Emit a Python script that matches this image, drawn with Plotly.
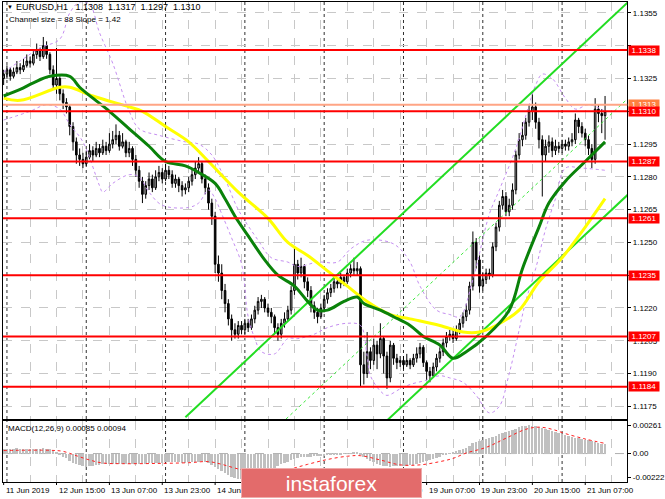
import plotly.graph_objects as go

W, H = 665, 499

# time axis: one bar per hour, bar 0 = 11 Jun 2019 23:00
tick_bars = [0, 16, 32, 48, 64, 80, 96, 112, 128, 144, 160, 176]
tick_text = ["11 Jun 2019", "12 Jun 15:00", "13 Jun 07:00", "13 Jun 23:00", "14 Jun 15:00",
             "17 Jun 07:00", "17 Jun 23:00", "18 Jun 15:00", "19 Jun 07:00", "19 Jun 23:00",
             "20 Jun 15:00", "21 Jun 07:00"]
day_start_bars = [1, 25, 49, 73, 97, 121, 145, 169]

# EURUSD H1, in pips above 1.1000
first_open = 325
close_pips = [327, 329, 326, 328, 330, 329, 331, 333, 332, 336,
              338, 335, 340, 336, 329, 322, 325, 318, 314, 312,
              303, 296, 290, 288, 286, 289, 292, 290, 293, 291,
              294, 292, 295, 297, 299, 294, 296, 291, 293, 288,
              283, 278, 272, 276, 279, 275, 280, 282, 279, 283,
              281, 277, 279, 276, 274, 275, 278, 281, 284, 286,
              279, 275, 268, 262, 240, 236, 228, 222, 215, 210,
              208, 212, 210, 213, 211, 215, 219, 223, 224, 220,
              218, 216, 211, 208, 213, 215, 219, 228, 240, 236,
              239, 232, 228, 221, 218, 216, 220, 224, 227, 229,
              232, 231, 234, 232, 236, 238, 237, 238, 194, 190,
              200, 196, 203, 199, 206, 198, 188, 203, 197, 195,
              196, 194, 196, 194, 197, 199, 202, 195, 191, 189,
              193, 197, 200, 204, 207, 208, 206, 210, 213, 216,
              219, 230, 250, 242, 230, 233, 236, 235, 248, 257,
              267, 271, 264, 267, 274, 290, 297, 299, 305, 310,
              312, 305, 297, 290, 294, 296, 292, 294, 293, 295,
              294, 296, 297, 306, 303, 300, 297, 293, 288, 311,
              309, 308, 310]
high_pips = [329, 331, 330, 330, 333, 332, 334, 336, 335, 338,
             341, 339, 344, 342, 337, 331, 339, 326, 320, 316,
             313, 305, 298, 293, 291, 292, 295, 294, 296, 295,
             297, 296, 300, 301, 304, 301, 300, 297, 296, 294,
             290, 285, 280, 278, 282, 281, 283, 285, 284, 286,
             285, 283, 281, 280, 278, 277, 280, 284, 287, 289,
             287, 281, 277, 270, 264, 244, 240, 231, 224, 217,
             213, 214, 214, 215, 215, 217, 221, 225, 226, 225,
             222, 220, 217, 213, 215, 218, 221, 230, 248, 242,
             243, 240, 234, 230, 223, 220, 222, 226, 229, 231,
             234, 234, 236, 235, 238, 240, 243, 241, 239, 200,
             209, 202, 206, 205, 213, 207, 200, 205, 204, 199,
             198, 198, 199, 197, 199, 202, 204, 203, 196, 193,
             195, 199, 202, 206, 209, 210, 210, 212, 215, 218,
             222, 232, 255, 252, 244, 236, 238, 238, 250, 259,
             269, 274, 273, 270, 277, 292, 300, 305, 307, 313,
             319, 314, 307, 299, 297, 299, 298, 297, 296, 297,
             297, 298, 300, 309, 307, 305, 302, 299, 295, 316,
             313, 311, 317]
low_pips = [322, 325, 324, 325, 327, 327, 328, 330, 330, 331,
            334, 333, 334, 334, 327, 320, 318, 315, 311, 309,
            299, 292, 286, 285, 284, 285, 288, 287, 289, 289,
            290, 290, 291, 293, 295, 292, 293, 289, 289, 285,
            280, 275, 268, 270, 274, 273, 274, 278, 277, 278,
            279, 275, 275, 273, 271, 272, 273, 276, 279, 282,
            277, 272, 265, 258, 236, 232, 224, 218, 212, 205,
            206, 206, 208, 208, 209, 210, 213, 217, 220, 218,
            216, 213, 208, 205, 206, 211, 214, 217, 226, 233,
            234, 229, 225, 218, 215, 213, 215, 218, 222, 225,
            227, 229, 229, 230, 231, 234, 235, 235, 184, 185,
            188, 192, 194, 192, 197, 190, 183, 186, 194, 192,
            193, 192, 193, 192, 193, 195, 197, 193, 187, 186,
            188, 191, 195, 198, 202, 205, 204, 205, 208, 211,
            214, 217, 228, 238, 227, 228, 231, 233, 234, 246,
            255, 265, 262, 262, 265, 272, 288, 294, 297, 303,
            306, 302, 293, 271, 287, 291, 289, 290, 291, 291,
            292, 292, 294, 295, 300, 298, 294, 290, 284, 286,
            305, 300, 297]

# moving averages (read at sample bars)
ma_green_bars = [0, 5, 9, 14, 20, 23, 27, 32, 38, 44, 49, 55, 59, 64, 67, 70, 74, 79, 83, 88,
                 92, 95, 98, 103, 107, 109, 114, 118, 123, 127, 132, 136, 140, 146, 153, 157,
                 162, 165, 170, 176, 182]
ma_green_pips = [317, 320, 323, 326, 326, 321, 316, 310, 302, 294, 287, 285, 282, 277, 270, 262,
                 253, 242, 235, 230, 223, 219, 219, 223, 225, 222, 219, 216, 212, 207, 203, 197,
                 200, 207, 219, 238, 257, 268, 278, 287, 296]
ma_yellow_bars = [0, 5, 17, 20, 27, 38, 42, 49, 56, 62, 71, 80, 86, 92, 98, 104, 110, 117, 123,
                  132, 139, 144, 149, 156, 162, 169, 176, 182]
ma_yellow_pips = [316, 315, 321, 321, 317, 312, 310, 303, 296, 287, 273, 261, 250, 244, 237, 230,
                  223, 217, 215, 212, 209, 209, 212, 219, 232, 243, 257, 270]

# bands (dotted violet)
band_up_bars = [0, 5, 11, 17, 20, 23, 26, 29, 33, 38, 41, 47, 55, 59, 63, 67, 71, 77, 81, 86,
                89, 95, 101, 105, 110, 117, 120, 123, 126, 131, 135, 138, 142, 147, 150, 155,
                159, 161, 163, 166, 170, 173, 177, 182]
band_up_pips = [328, 333, 339, 343, 355, 360, 359, 346, 332, 310, 302, 299, 296, 295, 290, 279,
                265, 251, 243, 241, 239, 241, 241, 247, 251, 250, 247, 241, 230, 219, 217, 216,
                233, 263, 274, 293, 313, 322, 327, 325, 316, 311, 313, 310]
band_lo_bars = [0, 8, 13, 17, 20, 24, 29, 30, 33, 38, 41, 44, 48, 56, 59, 62, 64, 66, 69, 72,
                74, 76, 78, 82, 86, 89, 94, 98, 104, 108, 110, 111, 114, 116, 120, 123, 128,
                132, 135, 139, 143, 147, 150, 153, 158, 161, 164, 167, 170, 175, 182]
band_lo_pips = [306, 310, 313, 311, 304, 296, 276, 273, 277, 281, 280, 273, 267, 266, 268, 274,
                270, 263, 252, 240, 216, 206, 200, 199, 206, 206, 208, 211, 213, 212, 198, 189,
                182, 180, 183, 185, 187, 189, 188, 186, 180, 172, 175, 190, 223, 238, 256, 270,
                284, 284, 283]

# regression channel (upper edge at its two ends, width from the label)
channel_bars = [55, 189]
channel_upper_pips = [170, 360]
channel_size_pips = 88

levels = [1.1338, 1.1310, 1.1287, 1.1261, 1.1235, 1.1207, 1.1184]
ask_level = 1.1313
price_ticks = [1.1175, 1.1190, 1.1205, 1.1220, 1.1235, 1.1250, 1.1265, 1.1280,
               1.1295, 1.1310, 1.1325, 1.1340, 1.1355]
hidden_ticks = [1.1235, 1.1310, 1.1340]

# MACD(12,26,9), in 1e-5
macd_hist = [45, 45, 44, 46, 47, 45, 44, 46, 45, 44, 46, 45, 47, 44, 38,
             25, 10, -10, -30, -45,
             -65, -85, -100, -110, -118, -122,
             -120, -115, -110, -105, -100,
             -97, -95, -94, -95, -93, -94, -95, -96, -95, -94, -93, -92, -93, -92, -91,
             -90, -88, -85, -82, -80, -80, -82, -83, -85, -84, -82, -80, -78,
             -75, -72, -78, -90, -105,
             -125, -145, -165, -185, -200, -215, -225, -232, -236,
             -235, -230, -222, -212, -200, -188, -175, -160,
             -145, -130, -115, -100, -88, -75, -62, -50, -42, -36,
             -32, -30, -28, -26, -24, -22, -20, -18, -15, -12,
             -8, -5, -2, 2, 5, 8, 10,
             -10, -30, -50, -68, -82, -95, -105, -112,
             -118, -122, -120, -118, -115, -113, -112, -110, -108,
             -100, -90, -80, -70, -60, -50, -40,
             -28, -15, -5, 5, 15, 25,
             35, 45, 55, 70, 95,
             110, 120, 128, 135, 142,
             152, 165, 178, 190, 200,
             210, 220, 232, 245, 252,
             258, 261, 260, 255,
             248, 240, 230, 220, 210,
             200, 190, 180, 170, 160,
             152, 145, 140, 135, 130,
             122, 115, 108, 100, 92, 85]
signal_bars = [0, 14, 18, 22, 26, 30, 36, 46, 56, 62, 66, 70, 74, 80, 86, 92, 98, 104, 108,
               114, 120, 126, 132, 136, 140, 146, 152, 158, 162, 166, 170, 176, 182]
signal_vals = [28, 30, 20, -20, -60, -88, -94, -92, -85, -75, -100, -135, -165, -185, -150,
               -100, -55, -25, -20, -60, -105, -105, -75, -45, 5, 57, 142, 225, 245, 225, 185,
               135, 94]


def px(x):
    return x / W


def py(y):
    return 1 - y / H


def price(p):
    return [1.1 + v / 10000 for v in p]


bars = list(range(len(close_pips)))
opens = [first_open] + close_pips[:-1]

fig = go.Figure()

fig.add_trace(go.Candlestick(
    x=bars, open=price(opens), high=price(high_pips), low=price(low_pips), close=price(close_pips),
    increasing=dict(line=dict(color='black', width=1), fillcolor='#a8a8a8'),
    decreasing=dict(line=dict(color='black', width=1), fillcolor='black'),
    whiskerwidth=0, hoverinfo='skip'))

band_style = dict(color='#c48ef0', width=1, dash='dot', shape='spline')
fig.add_trace(go.Scatter(x=band_up_bars, y=price(band_up_pips), mode='lines', line=band_style))
fig.add_trace(go.Scatter(x=band_lo_bars, y=price(band_lo_pips), mode='lines', line=band_style))

ch_up = price(channel_upper_pips)
ch_mid = price([v - channel_size_pips / 2 for v in channel_upper_pips])
ch_lo = price([v - channel_size_pips for v in channel_upper_pips])
fig.add_trace(go.Scatter(x=channel_bars, y=ch_mid, mode='lines',
                         line=dict(color='#3ee83e', width=1, dash='dot')))
fig.add_trace(go.Scatter(x=channel_bars, y=ch_up, mode='lines', line=dict(color='#22dd22', width=2)))
fig.add_trace(go.Scatter(x=channel_bars, y=ch_lo, mode='lines', line=dict(color='#22dd22', width=2)))

fig.add_trace(go.Scatter(x=ma_yellow_bars, y=price(ma_yellow_pips), mode='lines',
                         line=dict(color='#ffff00', width=3, shape='spline')))
fig.add_trace(go.Scatter(x=ma_green_bars, y=price(ma_green_pips), mode='lines',
                         line=dict(color='#0a820a', width=3, shape='spline')))

# MACD pane
fig.add_trace(go.Bar(x=bars, y=[v / 100000 for v in macd_hist], marker_color='#c0c0c0',
                     marker_line_width=0, width=0.6, xaxis='x2', yaxis='y2'))
fig.add_trace(go.Scatter(x=signal_bars, y=[v / 100000 for v in signal_vals], mode='lines',
                         line=dict(color='#ff2020', width=1, dash='dot', shape='spline'),
                         xaxis='x2', yaxis='y2'))

grid_bars = list(range(0, 189, 8))
xdom = [px(3), px(631)]
xr = [-0.2, 188.7]
common_x = dict(domain=xdom, range=xr, tickvals=grid_bars, showticklabels=False, ticks='',
                showgrid=True, gridcolor='#c8c8c8', griddash='dash', gridwidth=1,
                showline=True, mirror=True, linecolor='black', linewidth=1, zeroline=False)

fig.update_layout(
    width=W, height=H, margin=dict(l=0, r=0, t=0, b=0),
    paper_bgcolor='white', plot_bgcolor='white', showlegend=False,
    font=dict(family='Liberation Sans', size=8, color='black'),
    bargap=0,
    xaxis=dict(anchor='y', rangeslider=dict(visible=False), **common_x),
    xaxis2=dict(anchor='y2', **common_x),
    yaxis=dict(domain=[py(419), py(2)], range=[1.11692, 1.13600], anchor='x', side='right',
               tickvals=price_ticks,
               ticktext=['' if t in hidden_ticks else f'{t:.4f}' for t in price_ticks],
               ticks='outside', ticklen=3, tickcolor='black',
               showgrid=True, gridcolor='#c8c8c8', griddash='dash', gridwidth=1,
               showline=True, mirror=True, linecolor='black', linewidth=1, zeroline=False),
    yaxis2=dict(domain=[py(482), py(421)], range=[-0.00264, 0.00302], anchor='x2', side='right',
                tickvals=[0.00261, 0, -0.00222], ticktext=['0.00261', '0.00', '-0.00222'],
                ticks='outside', ticklen=3, tickcolor='black', showgrid=False,
                showline=True, mirror=True, linecolor='black', linewidth=1, zeroline=False),
)

shapes = []
for b in day_start_bars:
    for xa, ya in (('x', 'y domain'), ('x2', 'y2 domain')):
        shapes.append(dict(type='line', xref=xa, yref=ya, x0=b, x1=b, y0=0, y1=1, layer='below',
                           line=dict(color='#303030', width=1, dash='dot')))
shapes.append(dict(type='line', xref='x2 domain', yref='y2', x0=0, x1=1, y0=0, y1=0,
                   layer='below', line=dict(color='#b0b0b0', width=1, dash='dash')))
shapes.append(dict(type='line', xref='x domain', yref='y', x0=0, x1=1, y0=ask_level, y1=ask_level,
                   line=dict(color='#ffa585', width=2)))
for lv in levels:
    shapes.append(dict(type='line', xref='x domain', yref='y', x0=0, x1=1, y0=lv, y1=lv,
                       line=dict(color='#ff0000', width=2)))
for b in tick_bars:
    shapes.append(dict(type='line', xref='x2', yref='paper', x0=b, x1=b, y0=py(482), y1=py(485),
                       line=dict(color='black', width=1)))
fig.update_layout(shapes=shapes)

ann = []
for b, t in zip(tick_bars, tick_text):
    ann.append(dict(x=b, y=py(490), xref='x2', yref='paper', text=t, showarrow=False,
                    xanchor='left', yanchor='middle', font=dict(size=8)))
ann.append(dict(x=px(5), y=py(7), xref='paper', yref='paper', text='▼', showarrow=False,
                xanchor='left', yanchor='middle', font=dict(size=6)))
ann.append(dict(x=px(14), y=py(7), xref='paper', yref='paper',
                text='EURUSD,H1\u00a0\u00a0 1.1308\u00a0 1.1317\u00a0 1.1297\u00a0 1.1310',
                showarrow=False, xanchor='left', yanchor='middle', font=dict(size=9)))
ann.append(dict(x=px(7), y=py(19), xref='paper', yref='paper',
                text='Channel size = 88 Slope = 1.42', showarrow=False,
                xanchor='left', yanchor='middle', font=dict(size=8)))
ann.append(dict(x=px(6), y=py(428), xref='paper', yref='paper',
                text='MACD(12,26,9) 0.00085 0.00094', showarrow=False,
                xanchor='left', yanchor='middle', font=dict(size=8)))
ann.append(dict(x=px(632), y=ask_level, xref='paper', yref='y', text=f'{ask_level:.4f}',
                showarrow=False, xanchor='left', yanchor='middle', bgcolor='#ff8040',
                font=dict(size=8, color='white'), width=30, height=9, borderpad=0))
for lv in levels:
    ann.append(dict(x=px(632), y=lv, xref='paper', yref='y', text=f'{lv:.4f}',
                    showarrow=False, xanchor='left', yanchor='middle', bgcolor='#ff0000',
                    font=dict(size=8, color='white'), width=30, height=9, borderpad=0))
# instaforex badge, drawn last so it covers the labels beneath it
ann.append(dict(x=px(334), y=py(482.5), xref='paper', yref='paper', text='instaforex',
                showarrow=False, xanchor='center', yanchor='middle',
                width=179, height=28, borderpad=0, bgcolor='#e36b6b',
                bordercolor='#eeaaaa', borderwidth=1,
                font=dict(size=21, color='white', family='Liberation Sans')))
fig.update_layout(annotations=ann)

# the page's default body margin would shift the chart by 8 px
fig.write_html("out.html", config={'displayModeBar': False},
               post_script="document.body.style.margin='0';")
